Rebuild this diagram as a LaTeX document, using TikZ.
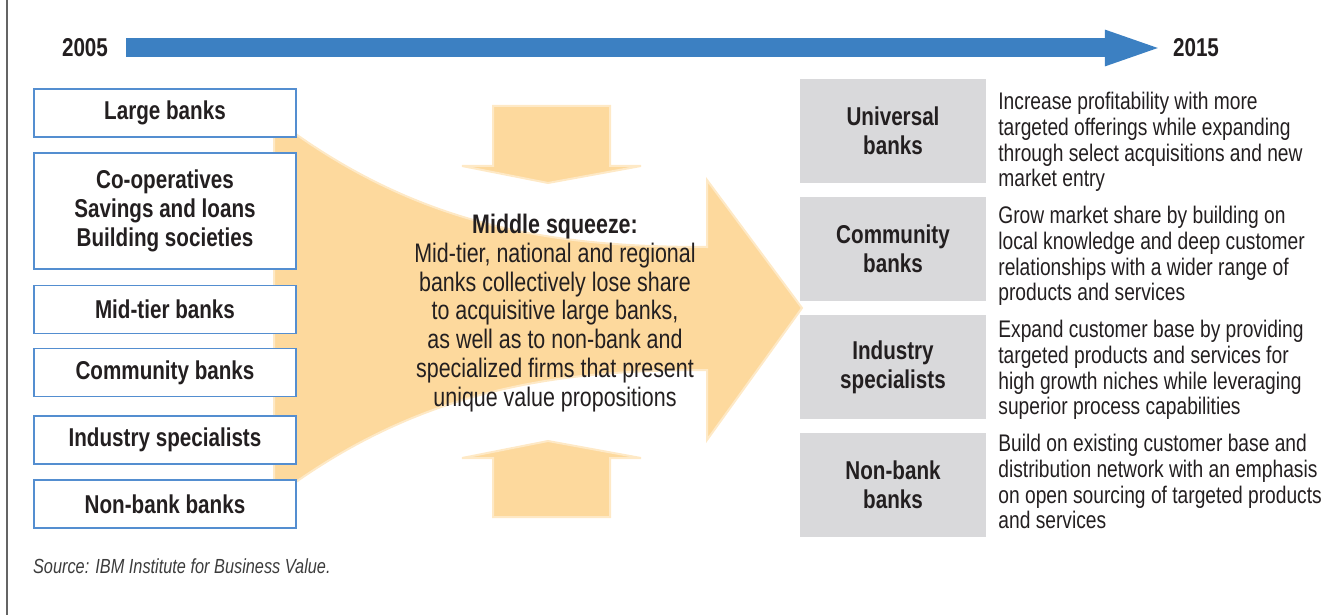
\documentclass[tikz,border=0pt]{standalone}
\usepackage{fontspec}
\setmainfont{Liberation Sans}[FakeStretch=0.8]
\usepackage{tikz}
\usetikzlibrary{arrows.meta,positioning,calc}

\definecolor{ink}{RGB}{35,31,32}
\definecolor{barblue}{RGB}{60,128,194}
\definecolor{boxblue}{RGB}{84,142,208}
\definecolor{squeezefill}{RGB}{253,217,157}
\definecolor{squeezeedge}{RGB}{254,233,198}
\definecolor{outgrey}{RGB}{217,217,219}
\definecolor{framegrey}{RGB}{100,100,100}
\definecolor{srcgrey}{RGB}{60,60,60}

\tikzset{
  year/.style={font=\fontsize{12.9}{14.5}\selectfont\bfseries},
  timeline/.style={draw=barblue, line width=9.5pt,
    -{Triangle[length=30pt,width=15.5pt]}},
  bankbox/.style={draw=boxblue, line width=0.6pt, fill=white,
    minimum width=131pt, minimum height=24pt, align=center,
    font=\fontsize{12.9}{14.5}\selectfont\bfseries},
  outbox/.style={fill=outgrey, minimum width=93pt, minimum height=52pt,
    align=center, font=\fontsize{12.9}{14.5}\selectfont\bfseries},
  desc/.style={anchor=north west, inner sep=0pt, align=left,
    font=\fontsize{12}{12.85}\selectfont},
  squeeze/.style={fill=squeezefill, draw=squeezeedge, line width=1pt}
}

\begin{document}
\begin{tikzpicture}[x=0.5pt, y=-0.5pt, text=ink]
  \useasboundingbox (0,0) rectangle (1334,615);
  \draw[framegrey, line width=0.7pt] (7,0) -- (7,615);

  % timeline
  \node[year] (y05) at (85,48) {2005};
  \node[year] (y15) at (1196,48) {2015};
  \draw[timeline, shorten <=5.5pt, shorten >=0.5pt] (y05) -- (y15);

  % funnel into the big arrow, with the two squeezing arrows
  \draw[squeeze] (274,118) .. controls (420,230) and (560,247) .. (707,247)
    -- (707,180) -- (802,308) -- (707,440) -- (707,370)
    .. controls (560,370) and (420,387) .. (274,498) -- cycle;
  \draw[squeeze] (493,106) -- (610,106) -- (610,166) -- (641,166)
    -- (548,183) -- (462,166) -- (493,166) -- cycle;
  \draw[squeeze] (493,517) -- (610,517) -- (610,458) -- (641,458)
    -- (548,441) -- (462,458) -- (493,458) -- cycle;

  % banks in 2005
  \node[bankbox] (large) at (165,113) {Large banks};
  \node[bankbox, minimum height=58pt] (coop) at (165,211)
    {Co-operatives\\Savings and loans\\Building societies};
  \node[bankbox] (midtier) at (165,309.5) {Mid-tier banks};
  \node[bankbox] (community) at (165,372.5) {Community banks};
  \node[bankbox] (industry) at (165,440) {Industry specialists};
  \node[bankbox] (nonbank) at (165,504) {Non-bank banks};

  \node[align=center, font=\fontsize{13.4}{14.4}\selectfont] (squeezetxt) at (555,313)
    {\textbf{Middle squeeze:}\\Mid-tier, national and regional\\banks collectively lose share\\
     to acquisitive large banks,\\as well as to non-bank and\\specialized firms that present\\
     unique value propositions};

  % banks in 2015
  \node[outbox] (universal) at (893,131) {Universal\\banks};
  \node[outbox] (commun15) at (893,249) {Community\\banks};
  \node[outbox] (indus15) at (893,367) {Industry\\specialists};
  \node[outbox] (nonbank15) at (893,485) {Non-bank\\banks};

  \node[desc] (universaltxt) at (998,92)
    {Increase profitability with more\\targeted offerings while expanding\\
     through select acquisitions and new\\market entry};
  \node[desc] (commun15txt) at (998,206)
    {Grow market share by building on\\local knowledge and deep customer\\
     relationships with a wider range of\\products and services};
  \node[desc] (indus15txt) at (998,320)
    {Expand customer base by providing\\targeted products and services for\\
     high growth niches while leveraging\\superior process capabilities};
  \node[desc] (nonbank15txt) at (998,434)
    {Build on existing customer base and\\distribution network with an emphasis\\
     on open sourcing of targeted products\\and services};

  \node[anchor=west, text=srcgrey, font=\fontsize{10.2}{11}\selectfont\itshape] (source)
    at (26,566) {Source: IBM Institute for Business Value.};
\end{tikzpicture}
\end{document}
